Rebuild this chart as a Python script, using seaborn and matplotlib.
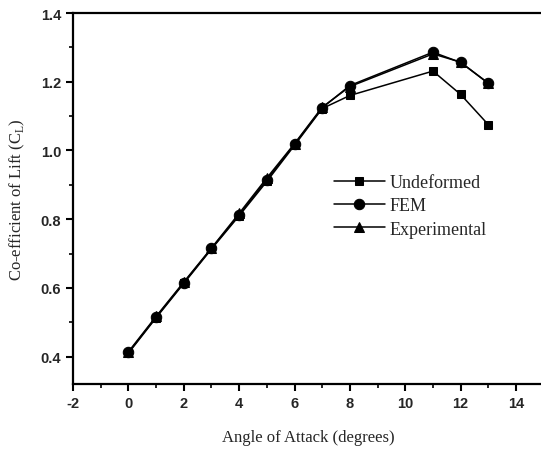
import pandas as pd
import matplotlib.pyplot as plt
import seaborn as sns

# Data

angle = [0, 1, 2, 3, 4, 5, 6, 7, 8, 11, 12, 13]

undeformed = [0.41, 0.513, 0.613, 0.713, 0.81, 0.91, 1.015, 1.122, 1.16, 1.231, 1.163, 1.075]
fem = [0.412, 0.515, 0.615, 0.715, 0.813, 0.915, 1.018, 1.124, 1.189, 1.286, 1.256, 1.196]
experimental = [0.414, 0.517, 0.617, 0.716, 0.817, 0.92, 1.02, 1.126, 1.186, 1.281, 1.257, 1.195]

series_names = ["Undeformed", "FEM", "Experimental"]

x_ticks = [-2, 0, 2, 4, 6, 8, 10, 12, 14]
y_ticks = [0.4, 0.6, 0.8, 1.0, 1.2, 1.4]

df = pd.DataFrame({
    "angle": angle * 3,
    "cl": undeformed + fem + experimental,
    "series": [s for s in series_names for _ in angle]
})

sns.set_style("ticks")

fig = plt.figure(figsize=(5.41, 4.52), dpi=100)
ax = fig.add_axes([0.135, 0.148, 0.87, 0.821])

sns.lineplot(
    data=df,
    x="angle",
    y="cl",
    hue="series",
    style="series",
    hue_order=series_names,
    style_order=series_names,
    palette=["black", "black", "black"],
    markers={"Undeformed": "s", "FEM": "o", "Experimental": "^"},
    dashes=False,
    markersize=7,
    markeredgecolor="black",
    linewidth=1.1,
    ax=ax
)

# squares look bigger than circles at equal size
for line in ax.lines:
    if line.get_marker() == "s":
        line.set_markersize(6)
    elif line.get_marker() == "o":
        line.set_markersize(7.5)

ax.set_xlim(-2, 15)
ax.set_ylim(0.32, 1.4)
ax.set_xticks(x_ticks)
ax.set_xticklabels([str(t) for t in x_ticks])
ax.set_yticks(y_ticks)
ax.set_yticklabels([f"{t:.1f}" for t in y_ticks])
ax.set_xticks([-1, 1, 3, 5, 7, 9, 11, 13], minor=True)
ax.set_yticks([0.5, 0.7, 0.9, 1.1, 1.3], minor=True)

for lab in ax.get_xticklabels() + ax.get_yticklabels():
    lab.set_fontfamily("Liberation Sans")
    lab.set_fontweight("bold")
    lab.set_fontsize(10.5)

ax.tick_params(which="major", direction="out", length=5, width=1.5, color="black")
ax.tick_params(which="minor", direction="out", length=3, width=1.2, color="black")

for side in ["left", "bottom", "top"]:
    ax.spines[side].set_linewidth(1.6)
    ax.spines[side].set_color("black")
ax.spines["top"].set_visible(True)
ax.spines["right"].set_visible(False)

ax.set_xlabel("Angle of Attack (degrees)", fontfamily="Liberation Serif", fontsize=12, labelpad=14)
ax.set_ylabel("Co-efficient of Lift (C$_\\mathregular{L}$)", fontfamily="Liberation Serif", fontsize=12, labelpad=10)

leg = ax.legend(
    loc="upper left",
    bbox_to_anchor=(0.52, 0.61),
    frameon=False,
    prop={"family": "Liberation Serif", "size": 13},
    handlelength=2.8,
    handletextpad=0.3,
    labelspacing=0.35
)

plt.savefig("out.png", dpi=100)
